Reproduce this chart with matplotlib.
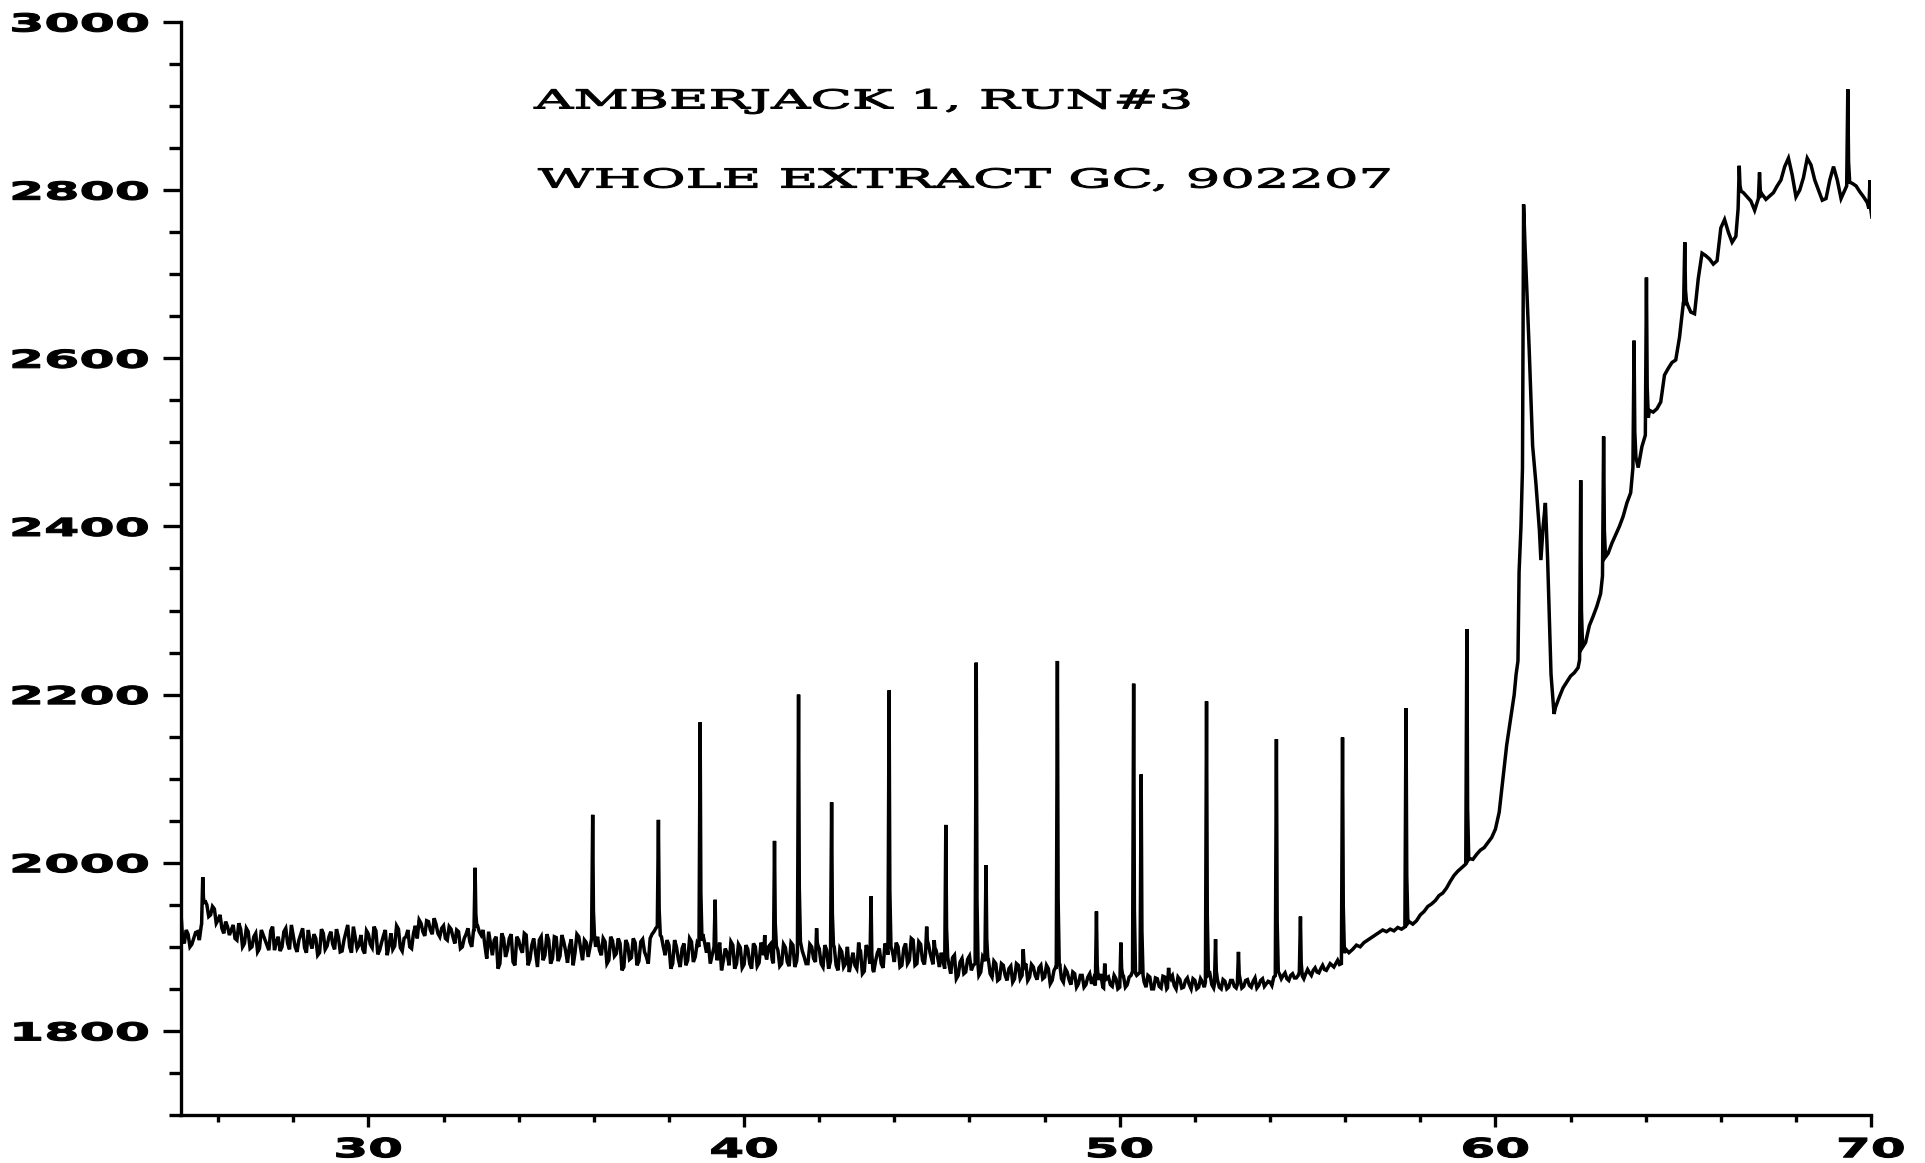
import numpy as np
import matplotlib
matplotlib.use("Agg")
import matplotlib.pyplot as plt
from matplotlib.ticker import MultipleLocator, FixedLocator
from matplotlib.patheffects import AbstractPathEffect
from matplotlib.transforms import Affine2D

# ---------------------------------------------------------------------------
# Detector signal sampled every 0.1 min from 25.0 to 70.0 min
# (one row per minute: x.0, x.1, ... x.9)
# ---------------------------------------------------------------------------
T_START = 25.0
T_STEP = 0.1
signal = [
    1948, 1904, 1915, 1903, 1917, 1908, 1935, 1950, 1938, 1945,   # 25
    1932, 1922, 1930, 1914, 1926, 1908, 1921, 1904, 1918, 1900,   # 26
    1916, 1898, 1914, 1902, 1919, 1896, 1912, 1900, 1922, 1897,   # 27
    1913, 1894, 1915, 1899, 1920, 1898, 1910, 1893, 1916, 1901,   # 28
    1918, 1897, 1912, 1895, 1917, 1900, 1924, 1898, 1914, 1892,   # 29
    1915, 1899, 1919, 1896, 1913, 1890, 1916, 1901, 1921, 1895,   # 30
    1912, 1900, 1916, 1910, 1928, 1913, 1930, 1915, 1927, 1912,   # 31
    1925, 1908, 1921, 1904, 1918, 1900, 1915, 1906, 1920, 1926,   # 32
    1914, 1902, 1918, 1890, 1912, 1880, 1910, 1896, 1915, 1878,   # 33
    1908, 1893, 1914, 1885, 1910, 1876, 1912, 1890, 1908, 1886,   # 34
    1911, 1889, 1906, 1881, 1909, 1893, 1912, 1884, 1905, 1900,   # 35
    1918, 1912, 1890, 1906, 1884, 1907, 1892, 1904, 1876, 1903,   # 36
    1887, 1905, 1883, 1909, 1888, 1910, 1918, 1925, 1912, 1890,   # 37
    1902, 1880, 1900, 1876, 1904, 1884, 1906, 1888, 1900, 1915,   # 38
    1893, 1880, 1900, 1888, 1872, 1898, 1878, 1902, 1880, 1899,   # 39
    1879, 1897, 1874, 1900, 1881, 1898, 1885, 1903, 1878, 1896,   # 40
    1880, 1899, 1877, 1902, 1883, 1906, 1888, 1880, 1900, 1882,   # 41
    1898, 1876, 1896, 1883, 1900, 1872, 1894, 1880, 1870, 1893,   # 42
    1874, 1895, 1871, 1897, 1876, 1883, 1898, 1875, 1899, 1902,   # 43
    1882, 1900, 1878, 1904, 1884, 1908, 1880, 1903, 1879, 1905,   # 44
    1884, 1898, 1876, 1882, 1893, 1868, 1890, 1866, 1886, 1870,   # 45
    1889, 1878, 1892, 1870, 1884, 1886, 1864, 1880, 1862, 1878,   # 46
    1860, 1877, 1862, 1878, 1866, 1880, 1864, 1876, 1861, 1878,   # 47
    1864, 1874, 1860, 1876, 1880, 1858, 1870, 1855, 1868, 1856,   # 48
    1866, 1855, 1868, 1862, 1852, 1866, 1850, 1864, 1853, 1862,   # 49
    1852, 1865, 1855, 1866, 1870, 1868, 1872, 1852, 1864, 1850,   # 50
    1862, 1851, 1864, 1853, 1866, 1850, 1861, 1852, 1863, 1850,   # 51
    1860, 1852, 1858, 1862, 1868, 1851, 1861, 1850, 1859, 1852,   # 52
    1860, 1851, 1862, 1853, 1861, 1852, 1863, 1854, 1862, 1856,   # 53
    1858, 1864, 1872, 1862, 1869, 1860, 1868, 1863, 1872, 1862,   # 54
    1873, 1866, 1875, 1869, 1878, 1872, 1880, 1876, 1884, 1880,   # 55
    1898, 1893, 1897, 1902, 1900, 1905, 1908, 1911, 1914, 1917,   # 56
    1920, 1918, 1921, 1919, 1923, 1921, 1924, 1930, 1927, 1931,   # 57
    1938, 1942, 1948, 1951, 1955, 1961, 1964, 1970, 1978, 1985,   # 58
    1990, 1994, 1998, 2005, 2004, 2010, 2015, 2018, 2024, 2030,   # 59
    2040, 2060, 2100, 2140, 2170, 2200, 2230, 2350, 2600, 2520,   # 60
    2450, 2380, 2410, 2400, 2290, 2200, 2185, 2197, 2208, 2215,   # 61
    2222, 2226, 2232, 2255, 2262, 2282, 2293, 2305, 2320, 2362,   # 62
    2368, 2380, 2390, 2400, 2412, 2428, 2440, 2490, 2470, 2495,   # 63
    2510, 2538, 2536, 2540, 2548, 2580, 2588, 2595, 2598, 2625,   # 64
    2665, 2665, 2655, 2653, 2695, 2725, 2722, 2718, 2712, 2716,   # 65
    2755, 2765, 2750, 2738, 2745, 2800, 2797, 2792, 2787, 2776,   # 66
    2790, 2795, 2789, 2793, 2797, 2805, 2812, 2828, 2838, 2818,   # 67
    2792, 2800, 2815, 2838, 2830, 2812, 2800, 2788, 2790, 2812,   # 68
    2828, 2812, 2790, 2800, 2810, 2808, 2805, 2798, 2792, 2785,   # 69
    2768,                                                         # 70
]

# Intermediate samples (x.05, x.15, ... x.95) over the noisy stretch 25-56 min
signal_mid = [
    1912, 1920, 1900, 1910, 1918, 1925, 1955, 1936, 1948, 1928,   # 25
    1938, 1916, 1924, 1920, 1910, 1928, 1900, 1922, 1898, 1912,   # 26
    1894, 1920, 1908, 1896, 1924, 1906, 1895, 1918, 1904, 1926,   # 27
    1900, 1908, 1922, 1893, 1906, 1915, 1890, 1921, 1897, 1912,   # 28
    1903, 1921, 1894, 1908, 1926, 1893, 1911, 1902, 1897, 1919,   # 29
    1903, 1924, 1891, 1905, 1920, 1902, 1897, 1925, 1899, 1910,   # 30
    1920, 1898, 1925, 1932, 1918, 1931, 1920, 1934, 1916, 1922,   # 31
    1910, 1924, 1912, 1920, 1898, 1910, 1922, 1900, 1912, 1918,   # 32
    1920, 1886, 1904, 1908, 1874, 1916, 1888, 1910, 1882, 1912,   # 33
    1898, 1916, 1878, 1902, 1893, 1908, 1884, 1915, 1880, 1912,   # 34
    1883, 1914, 1895, 1900, 1878, 1915, 1898, 1908, 1888, 1912,   # 35
    1900, 1896, 1910, 1880, 1912, 1889, 1910, 1872, 1908, 1885,   # 36
    1910, 1878, 1906, 1894, 1880, 1915, 1922, 1915, 1900, 1908,   # 37
    1874, 1908, 1885, 1898, 1878, 1910, 1882, 1904, 1895, 1905,   # 38
    1905, 1890, 1878, 1905, 1884, 1892, 1906, 1874, 1903, 1875,   # 39
    1902, 1880, 1904, 1877, 1905, 1878, 1900, 1884, 1902, 1877,   # 40
    1903, 1882, 1905, 1876, 1908, 1895, 1880, 1903, 1886, 1902,   # 41
    1880, 1902, 1874, 1905, 1878, 1898, 1876, 1900, 1883, 1878,   # 42
    1898, 1868, 1902, 1880, 1870, 1893, 1880, 1904, 1885, 1894,   # 43
    1905, 1876, 1898, 1880, 1910, 1878, 1906, 1884, 1900, 1893,   # 44
    1876, 1888, 1893, 1872, 1880, 1887, 1862, 1882, 1868, 1885,   # 45
    1872, 1880, 1866, 1888, 1878, 1868, 1883, 1860, 1880, 1866,   # 46
    1874, 1858, 1880, 1862, 1874, 1860, 1879, 1866, 1875, 1862,   # 47
    1878, 1856, 1872, 1866, 1862, 1874, 1861, 1870, 1852, 1866,   # 48
    1852, 1864, 1856, 1854, 1866, 1852, 1862, 1855, 1866, 1850,   # 49
    1866, 1852, 1864, 1872, 1866, 1870, 1858, 1866, 1850, 1863,   # 50
    1853, 1865, 1850, 1863, 1854, 1864, 1851, 1860, 1855, 1862,   # 51
    1850, 1862, 1852, 1866, 1855, 1863, 1852, 1861, 1850, 1860,   # 52
    1853, 1858, 1851, 1860, 1854, 1859, 1851, 1860, 1853, 1859,   # 53
    1854, 1866, 1868, 1866, 1862, 1866, 1863, 1866, 1866, 1868,   # 54
    1869, 1872, 1870, 1874, 1873, 1876, 1878, 1880, 1879, 1884,   # 55
]

# Main eluting peak with its shoulder, resolved more finely
cluster_time = [60.55, 60.60, 60.63, 60.68, 60.72, 60.75, 60.79, 60.84, 60.90,
                60.99, 61.08, 61.17, 61.21, 61.27, 61.33, 61.39, 61.48, 61.56]
cluster_value = [2224, 2240, 2346, 2400, 2469, 2783, 2731, 2677, 2609,
                 2496, 2450, 2396, 2360, 2400, 2428, 2360, 2224, 2177]

# Sharp peaks: retention time (min) and apex response
peak_time = [25.59, 32.84, 35.97, 37.72, 38.83, 39.23, 40.55, 40.81, 41.45,
             41.93, 42.33, 43.05, 43.38, 43.86, 44.86, 45.06, 45.37, 46.18,
             46.44, 47.43, 48.34, 49.38, 49.60, 50.03, 50.37, 50.57, 51.30,
             52.31, 52.55, 53.16, 54.17, 54.81, 55.93, 57.62, 59.24, 62.27,
             62.88, 63.69, 64.02, 65.04, 66.49, 67.03, 69.38, 69.97]
peak_height = [1983, 1994, 2057, 2051, 2167, 1956, 1914, 2026, 2200,
               1922, 2072, 1905, 1960, 2205, 1924, 1908, 2045, 2238,
               1997, 1897, 2240, 1942, 1880, 1905, 2213, 2105, 1875,
               2192, 1909, 1894, 2147, 1936, 2149, 2184, 2278, 2455,
               2507, 2621, 2696, 2738, 2829, 2821, 2920, 2812]

x_ticks = [30, 40, 50, 60, 70]
y_ticks = [1800, 2000, 2200, 2400, 2600, 2800, 3000]
x_limits = (25, 70)
y_limits = (1700, 3000)
title_lines = ["AMBERJACK 1, RUN#3", "WHOLE EXTRACT GC, 902207"]


class StretchX(AbstractPathEffect):
    """Draw text glyphs widened horizontally about a fixed anchor,
    optionally with an outline to even out the stroke weight."""

    def __init__(self, factor, anchor=0.5, stroke=0.0):
        super().__init__()
        self.factor = factor
        self.anchor = anchor
        self.stroke = stroke

    def draw_path(self, renderer, gc, tpath, affine, rgbFace=None):
        ext = tpath.get_extents()
        x0 = ext.x0 + self.anchor * ext.width
        wide = Affine2D().translate(-x0, 0).scale(self.factor, 1.0).translate(x0, 0)
        if self.stroke > 0:
            gc0 = renderer.new_gc()
            gc0.copy_properties(gc)
            gc0.set_linewidth(self.stroke)
            gc0.set_foreground(rgbFace)
            gc0.set_joinstyle("round")
            renderer.draw_path(gc0, tpath, wide + affine, rgbFace)
            gc0.restore()
        else:
            renderer.draw_path(gc, tpath, wide + affine, rgbFace)


# ---------------------------------------------------------------------------
# Assemble the trace: sampled signal + resolved cluster + sharp peaks
# ---------------------------------------------------------------------------
t_main = T_START + T_STEP * np.arange(len(signal))
t_mid = T_START + T_STEP * (np.arange(len(signal_mid)) + 0.5)
t = np.round(np.concatenate([t_main, t_mid]), 3)
sig = np.concatenate([np.asarray(signal, float), np.asarray(signal_mid, float)])
srt = np.argsort(t, kind="stable")
t, sig = t[srt], sig[srt]

LEFT_W, RIGHT_W, TAIL_T, TAIL_F = 0.03, 0.05, 0.02, 0.22

keep = ~((t >= cluster_time[0]) & (t <= cluster_time[-1]))
pt_list, pv_list = [], []
for pt, ph in zip(peak_time, peak_height):
    keep &= ~((t >= pt - LEFT_W) & (t <= pt + RIGHT_W))
    base_l = np.interp(pt - LEFT_W, t, sig)
    base_r = np.interp(pt + RIGHT_W, t, sig)
    pt_list += [pt - LEFT_W, pt, pt + TAIL_T, pt + RIGHT_W]
    pv_list += [base_l, ph, base_r + TAIL_F * (ph - base_r), base_r]

all_t = np.concatenate([t[keep], np.asarray(cluster_time), np.asarray(pt_list)])
all_v = np.concatenate([sig[keep], np.asarray(cluster_value, float), np.asarray(pv_list)])
order = np.argsort(all_t, kind="stable")
all_t, all_v = all_t[order], all_v[order]

# ---------------------------------------------------------------------------
# Figure
# ---------------------------------------------------------------------------
fig = plt.figure(figsize=(19.25, 11.63), dpi=100)
ax = fig.add_axes([0.0938, 0.0413, 0.972 - 0.0938, 0.9811 - 0.0413])

ax.plot(all_t, all_v, color="black", linewidth=2.5, solid_joinstyle="miter",
        clip_on=True)

ax.set_xlim(*x_limits)
ax.set_ylim(*y_limits)

for side in ("top", "right"):
    ax.spines[side].set_visible(False)
for side in ("left", "bottom"):
    ax.spines[side].set_linewidth(2.4)
    ax.spines[side].set_color("black")

ax.xaxis.set_major_locator(FixedLocator(x_ticks))
ax.xaxis.set_minor_locator(MultipleLocator(2))
ax.yaxis.set_major_locator(FixedLocator(y_ticks))
ax.yaxis.set_minor_locator(MultipleLocator(50))

ax.tick_params(axis="y", which="major", direction="out", length=13, width=2.4, pad=10)
ax.tick_params(axis="y", which="minor", direction="out", length=8.5, width=2.4)
ax.tick_params(axis="x", which="major", direction="out", length=8.5, width=2.4, pad=7.5)
ax.tick_params(axis="x", which="minor", direction="out", length=5, width=2.4)

ax.set_xticklabels([str(v) for v in x_ticks])
ax.set_yticklabels([str(v) for v in y_ticks])

for lbl in ax.get_yticklabels():
    lbl.set_fontfamily("DejaVu Sans")
    lbl.set_fontweight("bold")
    lbl.set_fontsize(17.8)
    lbl.set_path_effects([StretchX(2.05, anchor=1.0, stroke=0.8)])
for lbl in ax.get_xticklabels():
    lbl.set_fontfamily("DejaVu Sans")
    lbl.set_fontweight("bold")
    lbl.set_fontsize(19.0)
    lbl.set_path_effects([StretchX(1.9, anchor=0.5, stroke=0.8)])

title_pos = [(0.2774, 0.9132), (0.2795, 0.8452)]
for text, (tx, ty) in zip(title_lines, title_pos):
    fig.text(tx, ty, text, family="DejaVu Serif", fontsize=18.8,
             ha="left", va="center", color="black",
             path_effects=[StretchX(2.08, anchor=0.0, stroke=0.8)])

fig.savefig("out.png", dpi=100, facecolor="white")
